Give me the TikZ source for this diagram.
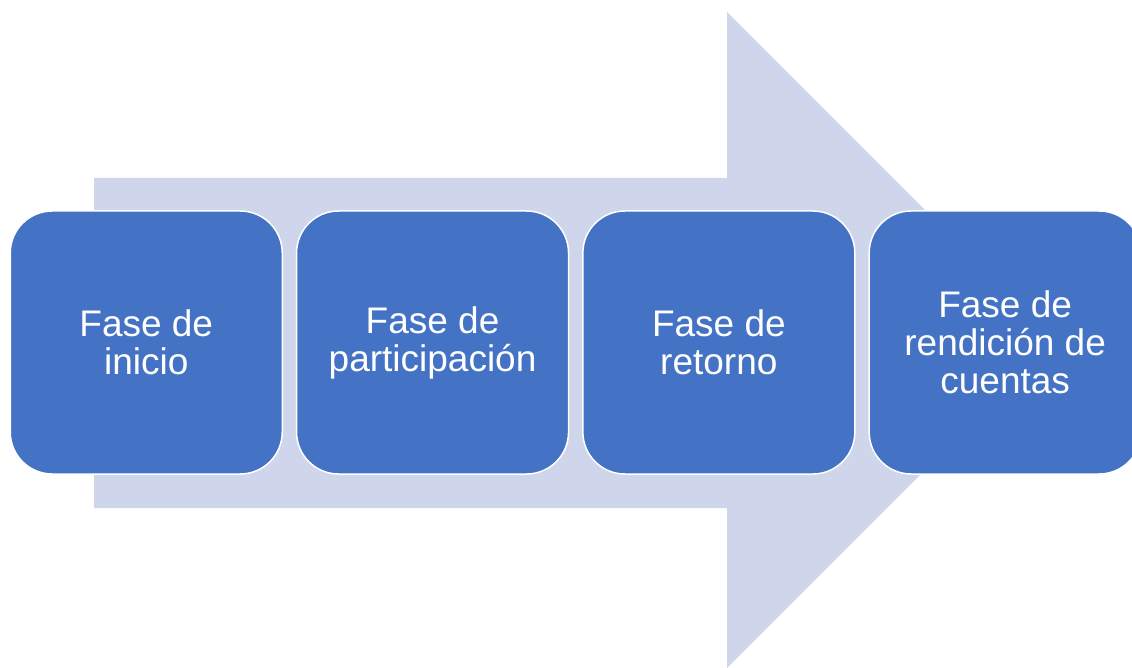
\documentclass[tikz,border=0pt]{standalone}
\usepackage{fontspec}
\setmainfont{Liberation Sans}
\usetikzlibrary{positioning}
\definecolor{arrowgray}{HTML}{CFD5EA}
\definecolor{phaseblue}{HTML}{4472C4}
\begin{document}
\begin{tikzpicture}[x=1pt,y=-1pt,node distance=12.8pt,
    phase/.style={draw=white,line width=1.5pt,fill=phaseblue,rounded corners=42pt,
      minimum width=272pt,minimum height=263pt,text=white,align=center,
      font=\fontsize{37}{38}\selectfont}]
      \useasboundingbox (0,0) rectangle (1132,668);
      \fill[arrowgray] (94,178) -- (727,178) -- (727,12) -- (1055,340)
        -- (727,668) -- (727,508) -- (94,508) -- cycle;
      \node[phase,anchor=west] (inicio) at (9.5,342.5) {Fase de\\inicio};
      \node[phase,right=of inicio] (participacion) {Fase de\\participación};
      \node[phase,right=of participacion] (retorno) {Fase de\\retorno};
      \node[phase,right=of retorno] (rendicion) {Fase de\\rendición de\\cuentas};
    \end{tikzpicture}
\end{document}
